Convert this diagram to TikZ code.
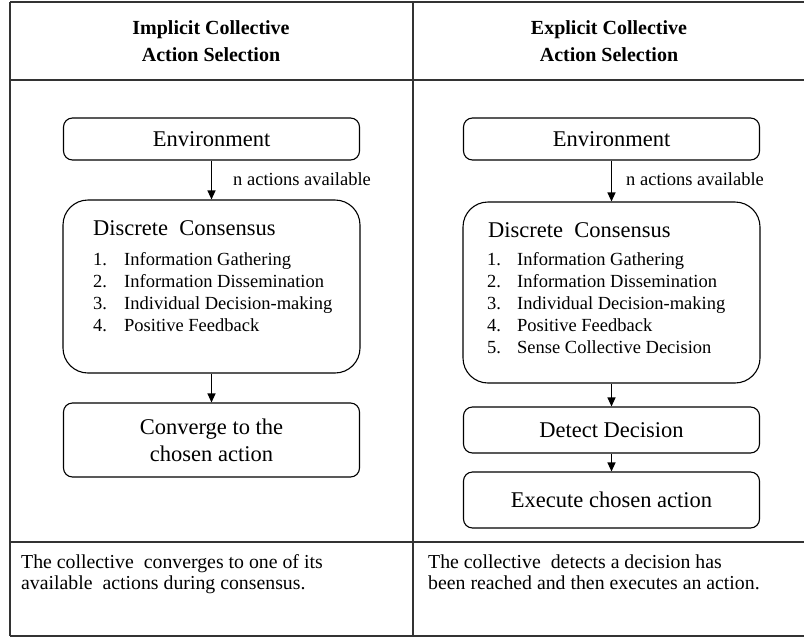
\documentclass[tikz,border=0pt]{standalone}
\usepackage{fontspec}
\setmainfont{Liberation Serif}
\usetikzlibrary{arrows.meta}

\tikzset{
  rule/.style={line width=1.3pt, black!80},
  box/.style={draw, line width=1.1pt, rounded corners=9pt, minimum width=296pt,
    align=center, font=\fontsize{22.5}{27}\selectfont},
  bigbox/.style={draw, line width=1.1pt, rounded corners=25pt, minimum width=297pt},
  flow/.style={line width=1.2pt, -{Triangle[length=9pt,width=8pt]}},
  head/.style={align=center, anchor=north, font=\bfseries\fontsize{20}{27}\selectfont},
  title/.style={anchor=base west, font=\fontsize{22.5}{26}\selectfont},
  entry/.style={anchor=base west, inner sep=0pt, font=\fontsize{18.5}{22}\selectfont},
  note/.style={anchor=base west, inner sep=0pt, font=\fontsize{19.8}{21}\selectfont}
}

\begin{document}
\begin{tikzpicture}[x=1pt, y=-1pt]
    \useasboundingbox (0,0) rectangle (804,638);

    % Tabel
    \draw[rule] (10,2) -- (804,2);
    \draw[rule] (10,80) -- (804,80);
    \draw[rule] (10,542) -- (804,542);
    \draw[rule] (10,636) -- (804,636);
    \draw[rule] (10,2) -- (10,636);
    \draw[rule] (413,2) -- (413,636);

    % Judul kolom
    \node[head] (headL) at (211,17) {Implicit Collective\\Action Selection};
    \node[head] (headR) at (609,17) {Explicit Collective\\Action Selection};

    % Kolom kiri
    \node[box, minimum height=42pt] (envL) at (211.5,139) {Environment};
    \node[bigbox, minimum height=173pt] (dcL) at (211.5,286.5) {};
    \node[box, minimum height=74pt] (convL) at (211.5,440) {Converge to the\\chosen action};

    \node[title, inner sep=0pt] (dcTitleL) at (93,235) {Discrete\ \ Consensus};
    \foreach \i/\txt in {1/Information Gathering, 2/Information Dissemination,
                         3/Individual Decision-making, 4/Positive Feedback}
    {
        \node[entry] (numL\i) at (93,243+22*\i) {\i.};
        \node[entry] (itemL\i) at (124,243+22*\i) {\txt};
    }

    \draw[flow] (envL) -- (dcL);
    \draw[flow] (dcL) -- (convL);
    \node[entry] (availL) at (233,185) {n actions available};

    % Kolom kanan
    \node[box, minimum height=42pt] (envR) at (611.5,139) {Environment};
    \node[bigbox, minimum height=181pt] (dcR) at (611.5,292.5) {};
    \node[box, minimum height=46pt] (detR) at (611.5,430) {Detect Decision};
    \node[box, minimum height=56pt] (exeR) at (611.5,500) {Execute chosen action};

    \node[title, inner sep=0pt] (dcTitleR) at (488,237) {Discrete\ \ Consensus};
    \foreach \i/\txt in {1/Information Gathering, 2/Information Dissemination,
                         3/Individual Decision-making, 4/Positive Feedback,
                         5/Sense Collective Decision}
    {
        \node[entry] (numR\i) at (487,243+22*\i) {\i.};
        \node[entry] (itemR\i) at (517,243+22*\i) {\txt};
    }

    \draw[flow] (envR) -- (dcR);
    \draw[flow] (dcR) -- (detR);
    \draw[flow] (detR) -- (exeR);
    \node[entry] (availR) at (626,185) {n actions available};

    % Keterangan bawah
    \node[note] (noteL1) at (21,568) {The collective\ \ converges to one of its};
    \node[note] (noteL2) at (21,589) {available\ \ actions during consensus.};
    \node[note] (noteR1) at (428,568) {The collective\ \ detects a decision has};
    \node[note] (noteR2) at (428,589) {been reached and then executes an action.};
\end{tikzpicture}
\end{document}
